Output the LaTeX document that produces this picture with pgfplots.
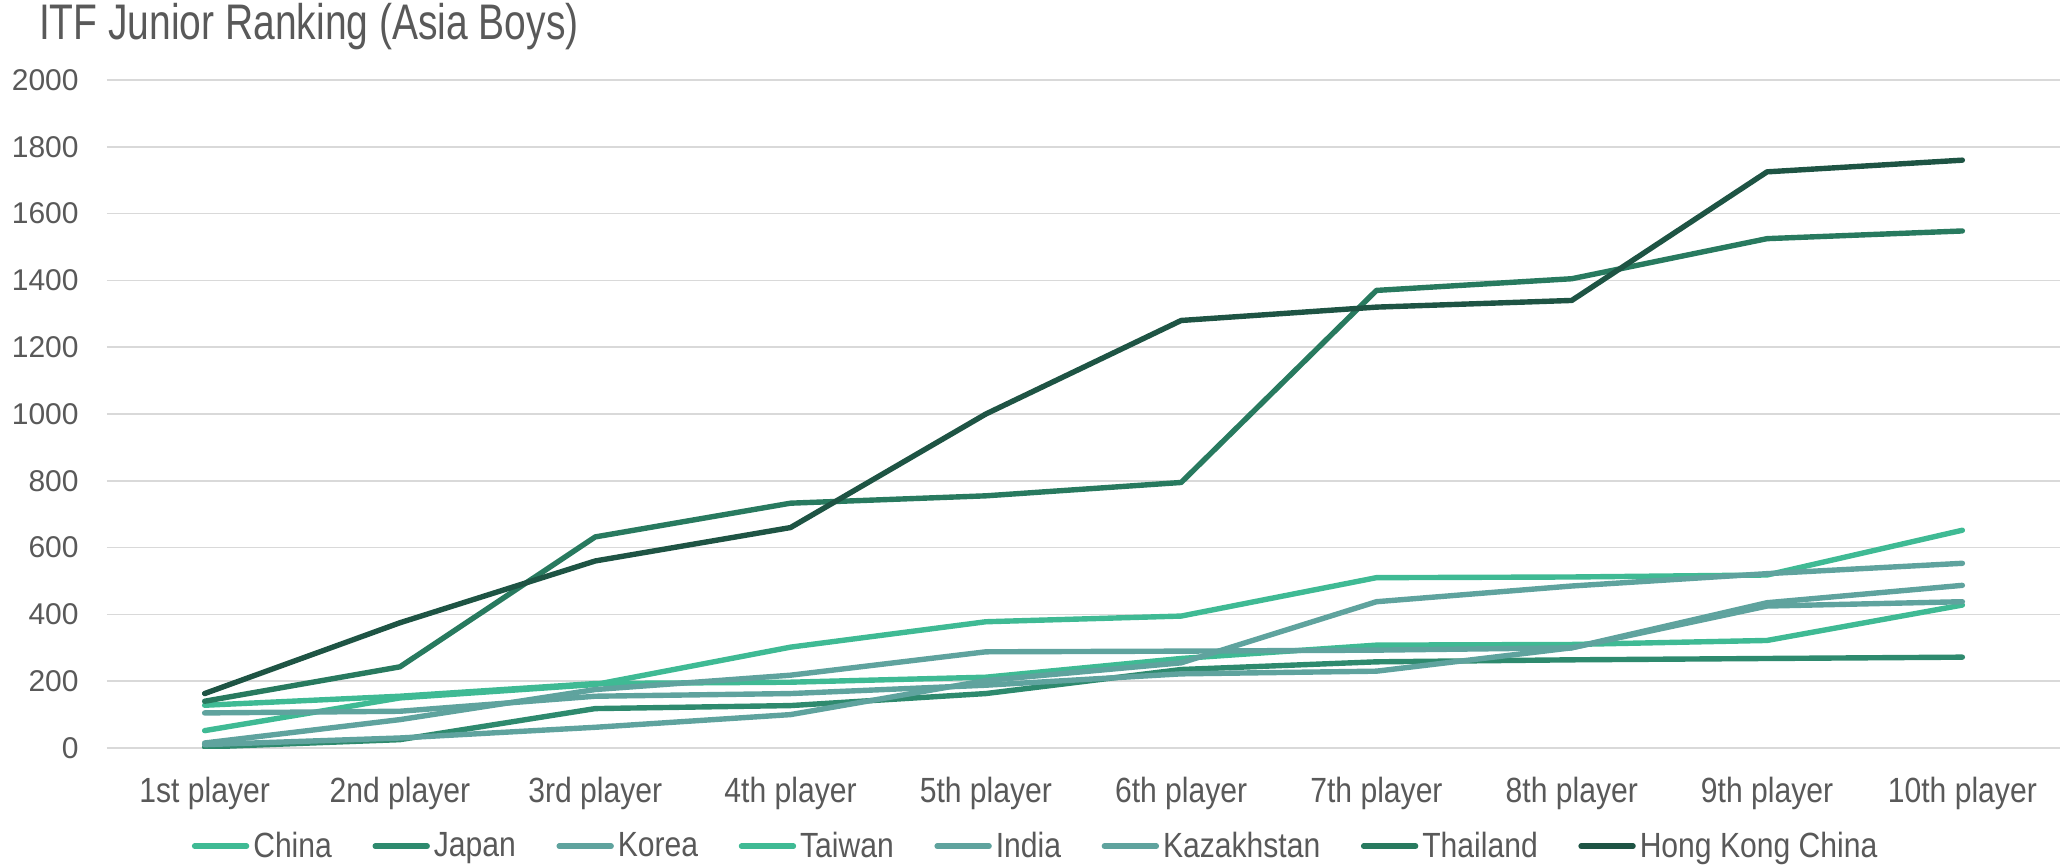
\documentclass[border=0pt]{standalone}
\usepackage{pgfplots}
\pgfplotsset{compat=1.18}
\usepackage{pgfplotstable}
\usepackage{fontspec}
\setmainfont{Liberation Sans}
\newfontfamily\condfont[FakeStretch=0.86]{Liberation Sans}
\newfontfamily\titlefont[FakeStretch=0.78]{Liberation Sans}

\definecolor{txt}{HTML}{595959}
\definecolor{gridc}{HTML}{D9D9D9}
\definecolor{cLight}{HTML}{3FBA94}
\definecolor{cJapan}{HTML}{2E8A6E}
\definecolor{cTeal}{HTML}{5FA39E}
\definecolor{cThai}{HTML}{287A5F}
\definecolor{cHK}{HTML}{1E5444}

% values per player rank (x = 0 is 1st player)
\pgfplotstableread{
x China Japan Korea Taiwan India Kazakhstan Thailand HongKong
0 52  3   105 128 15  10  140  163
1 150 25  110 155 85  30  243  375
2 190 118 155 193 175 62  632  560
3 302 127 163 197 218 100 733  660
4 378 163 188 212 288 202 755  1000
5 395 235 222 268 290 255 795  1280
6 510 258 230 308 293 438 1370 1320
7 512 264 300 310 300 485 1405 1340
8 518 268 435 322 425 522 1525 1725
9 652 272 487 428 438 553 1548 1760
}\data

\begin{document}
\begin{tikzpicture}
\begin{axis}[
  scale only axis,
  width=976.5bp, height=334bp,
  xmin=-0.5, xmax=9.5,
  ymin=0, ymax=2000,
  ytick={0,200,...,2000},
  xtick={0,...,9},
  xticklabels={1st player,2nd player,3rd player,4th player,5th player,
               6th player,7th player,8th player,9th player,10th player},
  axis line style={draw=none},
  major tick length=0pt,
  ymajorgrids,
  grid style={gridc, line width=0.75bp},
  /pgf/number format/assume math mode=true,
  /pgf/number format/1000 sep={},
  yticklabel style={font=\fontsize{15bp}{18bp}\selectfont, text=txt,
                    anchor=east, inner sep=0pt, xshift=-14bp},
  xticklabel style={font=\condfont\fontsize{17.5bp}{21bp}\selectfont, text=txt,
                    anchor=base, inner sep=0pt, yshift=-27bp},
  title={ITF Junior Ranking (Asia Boys)},
  title style={font=\titlefont\fontsize{25bp}{30bp}\selectfont, text=txt,
               at={(rel axis cs:-0.035,1.062)}, anchor=west, inner sep=0pt},
  legend columns=-1,
  legend style={draw=none, fill=none, at={(0.476,-0.147)}, anchor=center,
                font=\condfont\fontsize{17.5bp}{21bp}\selectfont, text=txt,
                /tikz/every even column/.append style={column sep=18.3bp},
                inner sep=0pt},
  legend image code/.code={%
    \draw[#1, line width=2.7bp, line cap=round] (0bp,0bp) -- (26bp,0bp);},
  every axis plot/.append style={line width=2.7bp, line cap=round, line join=round, mark=none},
]
\addplot[cLight] table[x=x, y=China] {\data};
\addlegendentry{China}
\addplot[cJapan] table[x=x, y=Japan] {\data};
\addlegendentry{Japan}
\addplot[cTeal] table[x=x, y=Korea] {\data};
\addlegendentry{Korea}
\addplot[cLight] table[x=x, y=Taiwan] {\data};
\addlegendentry{Taiwan}
\addplot[cTeal] table[x=x, y=India] {\data};
\addlegendentry{India}
\addplot[cTeal] table[x=x, y=Kazakhstan] {\data};
\addlegendentry{Kazakhstan}
\addplot[cThai] table[x=x, y=Thailand] {\data};
\addlegendentry{Thailand}
\addplot[cHK] table[x=x, y=HongKong] {\data};
\addlegendentry{Hong Kong China}
\end{axis}
\pgfresetboundingbox
\path (-53.5bp,-58.5bp) rectangle (977.5bp,374bp);
\end{tikzpicture}
\end{document}
